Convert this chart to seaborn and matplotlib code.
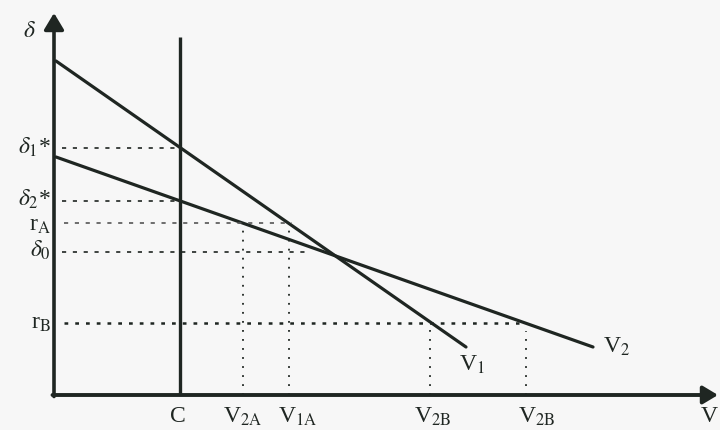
import matplotlib
matplotlib.use("Agg")
import matplotlib.pyplot as plt
import seaborn as sns
import pandas as pd

# line end points (V on x, delta on y, arbitrary units)
v1_x = [0.2, 41.2]
v1_y = [33.4, 4.8]
v2_x = [0.2, 53.9]
v2_y = [23.8, 4.8]

c_x = 12.6
c_top = 35.8

# levels on the delta axis
delta1_star = 24.7
delta2_star = 19.4
r_a = 17.2
delta0 = 14.3
r_b = 7.2

# points on the V axis
v2a = 18.9
v1a = 23.5
v2b_1 = 37.6
v2b_2 = 47.2

x_max = 66.4
y_max = 38.2

sns.set_style("white")
plt.rcParams["font.family"] = ["Liberation Serif", "DejaVu Serif"]
plt.rcParams["mathtext.fontset"] = "stix"

ink = "#1f2622"
bg = "#f7f7f7"

fig = plt.figure(figsize=(7.2, 4.31), dpi=100, facecolor=bg)
ax = fig.add_axes([54 / 720, 35 / 431, 664 / 720, 382 / 431])
ax.set_facecolor(bg)

lines = pd.DataFrame({
    "V": v1_x + v2_x,
    "delta": v1_y + v2_y,
    "curve": ["V1", "V1", "V2", "V2"],
})
sns.lineplot(data=lines, x="V", y="delta", units="curve", estimator=None,
             color=ink, lw=2.3, ax=ax, legend=False)

# vertical line C
ax.plot([c_x, c_x], [0, c_top], color=ink, lw=2.4, solid_capstyle="butt")

dash = (0, (2.5, 4))
# horizontal guide lines
ax.plot([0.8, c_x], [delta1_star, delta1_star], color=ink, lw=1.2, ls=dash)
ax.plot([0.8, c_x - 0.5], [delta2_star, delta2_star], color=ink, lw=1.2, ls=dash)
ax.plot([1.0, v1a + 0.3], [r_a, r_a], color="#555555", lw=1.2, ls=dash)
ax.plot([0.8, 25.6], [delta0, delta0], color=ink, lw=1.2, ls=dash)
ax.plot([1.0, 46.5], [r_b, r_b], color=ink, lw=1.8, ls=(0, (1.5, 2.8)))

# vertical guide lines
dot = (0, (1, 4))
ax.plot([v2a, v2a], [0, r_a], color=ink, lw=1.3, ls=dot)
ax.plot([v1a, v1a], [0, r_a], color=ink, lw=1.3, ls=dot)
ax.plot([v2b_1, v2b_1], [0, r_b], color=ink, lw=1.3, ls=dot)
ax.plot([v2b_2, v2b_2], [0, r_b - 0.8], color=ink, lw=1.3, ls=dot)

# axes with arrows
ax.annotate("", xy=(0, y_max), xytext=(0, -0.15),
            arrowprops=dict(arrowstyle="-|>,head_length=0.5,head_width=0.3",
                            lw=2.6, color=ink, mutation_scale=20,
                            shrinkA=0, shrinkB=0))
ax.annotate("", xy=(x_max, 0), xytext=(-0.15, 0),
            arrowprops=dict(arrowstyle="-|>,head_length=0.5,head_width=0.3",
                            lw=2.8, color=ink, mutation_scale=18,
                            shrinkA=0, shrinkB=0),
            annotation_clip=False)

fs = 17
left_labels = [
    (r"$\delta$", 36.5, -1.8),
    (r"$\delta_1$*", 24.9, -0.3),
    (r"$\delta_2$*", 19.7, -0.3),
    (r"r$_{\mathrm{A}}$", 17.0, -0.3),
    (r"$\delta_0$", 14.6, -0.3),
    (r"r$_{\mathrm{B}}$", 7.3, -0.3),
]
for txt, yy, xx in left_labels:
    ax.text(xx, yy, txt, ha="right", va="center", fontsize=fs, color=ink,
            clip_on=False)

bottom_labels = [
    ("C", 12.4, "center"),
    (r"V$_{\mathrm{2A}}$", 18.9, "center"),
    (r"V$_{\mathrm{1A}}$", 24.4, "center"),
    (r"V$_{\mathrm{2B}}$", 37.9, "center"),
    (r"V$_{\mathrm{2B}}$", 48.3, "center"),
    ("V", 66.4, "right"),
]
for txt, xx, ha in bottom_labels:
    ax.text(xx, -1.0, txt, ha=ha, va="top", fontsize=fs, color=ink,
            clip_on=False)

ax.text(41.8, 3.1, r"V$_1$", ha="center", va="center", fontsize=fs, color=ink)
ax.text(56.3, 4.9, r"V$_2$", ha="center", va="center", fontsize=fs, color=ink)

ax.set_xlim(0, x_max)
ax.set_ylim(0, y_max)
ax.set_xlabel("")
ax.set_ylabel("")
ax.set_xticks([])
ax.set_yticks([])
sns.despine(ax=ax, left=True, bottom=True)

fig.savefig("out.png", dpi=100, facecolor=bg)
